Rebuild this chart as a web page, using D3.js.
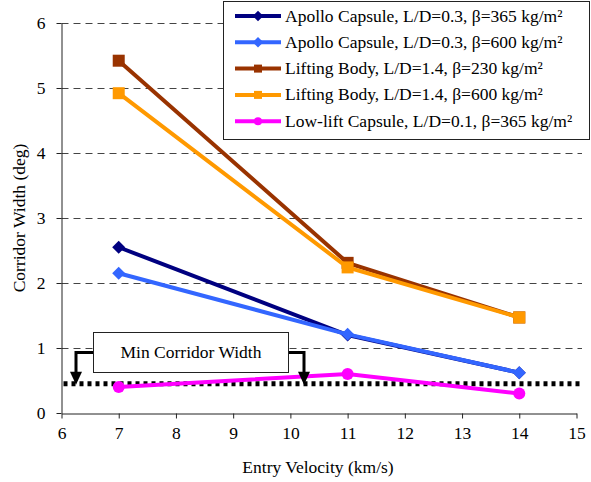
<!DOCTYPE html>
<html>
<head>
<meta charset="utf-8">
<script src="https://cdn.jsdelivr.net/npm/d3@7"></script>
</head>
<body style="margin:0">
<svg id="fig" width="591" height="482"></svg>
<script>
// DATA =======================================================================
var velocities = [7, 11, 14];
var seriesNames = [
    "Apollo Capsule, L/D=0.3, \u03b2=365 kg/m\u00b2",
    "Apollo Capsule, L/D=0.3, \u03b2=600 kg/m\u00b2",
    "Lifting Body, L/D=1.4, \u03b2=230 kg/m\u00b2",
    "Lifting Body, L/D=1.4, \u03b2=600 kg/m\u00b2",
    "Low-lift Capsule, L/D=0.1, \u03b2=365 kg/m\u00b2"
];
var apollo365 = [2.55, 1.2, 0.62];
var apollo600 = [2.15, 1.21, 0.62];
var lifting230 = [5.42, 2.31, 1.47];
var lifting600 = [4.92, 2.24, 1.47];
var lowLift = [0.4, 0.6, 0.3];
var minCorridor = 0.45;
var xTicks = [6, 7, 8, 9, 10, 11, 12, 13, 14, 15];
var yTicks = [0, 1, 2, 3, 4, 5, 6];

var colors = ["#000080", "#3366ff", "#993300", "#ff9900", "#ff00ff"];
var shapes = ["diamond", "diamond", "square", "square", "circle"];
var values = [apollo365, apollo600, lifting230, lifting600, lowLift];

var FONT = "'Liberation Serif', 'Tinos', 'Times New Roman', serif";

// SETUP ======================================================================
var svg = d3.select("#fig");
var x = d3.scaleLinear().domain([6, 15]).range([61.5, 576.5]),
    y = d3.scaleLinear().domain([0, 6]).range([413, 23]);

var series = seriesNames.map(function (name, i) {
    return {
        name: name, color: colors[i], shape: shapes[i],
        points: velocities.map(function (v, j) { return {x: v, y: values[i][j]}; })
    };
});

function serif(sel, size) {
    sel.attr("font-family", FONT).attr("font-size", size)
        .style("font-family", FONT, "important")
        .style("font-size", size + "px", "important");
    return sel;
}

// gridlines
svg.append("g").selectAll("line")
    .data(yTicks.slice(1))
    .enter().append("line")
    .attr("x1", x(6)).attr("x2", 582)
    .attr("y1", function (d) { return Math.round(y(d)) + 0.5; })
    .attr("y2", function (d) { return Math.round(y(d)) + 0.5; })
    .attr("stroke", "#444").attr("stroke-width", 1)
    .attr("stroke-dasharray", "7,5");

// axes
var xAxis = svg.append("g")
    .attr("transform", "translate(0,413.5)")
    .call(d3.axisBottom(x).tickValues(xTicks).tickFormat(d3.format("d"))
        .tickSize(5).tickSizeOuter(0).tickPadding(8));
var yAxis = svg.append("g")
    .attr("transform", "translate(61.5,0)")
    .call(d3.axisLeft(y).tickValues(yTicks).tickFormat(d3.format("d"))
        .tickSize(5).tickSizeOuter(0).tickPadding(11));
[xAxis, yAxis].forEach(function (a) {
    a.attr("font-family", FONT).attr("font-size", 17.5);
    a.select(".domain").attr("stroke", "#222");
    a.selectAll(".tick line").attr("stroke", "#222");
    serif(a.selectAll("text").attr("fill", "#000"), 17.5);
});

serif(svg.append("text"), 17.5)
    .attr("x", 318).attr("y", 473)
    .attr("text-anchor", "middle")
    .text("Entry Velocity (km/s)");
serif(svg.append("text"), 17.5)
    .attr("transform", "translate(25,218) rotate(-90)")
    .attr("text-anchor", "middle")
    .text("Corridor Width (deg)");

// minimum corridor line
svg.append("line")
    .attr("x1", x(6) + 2).attr("x2", 581)
    .attr("y1", y(minCorridor)).attr("y2", y(minCorridor))
    .attr("stroke", "#000").attr("stroke-width", 5)
    .attr("stroke-dasharray", "4,4");

// series
var line = d3.line()
    .x(function (d) { return x(d.x); })
    .y(function (d) { return y(d.y); });

function drawMarker(g, shape, color, size) {
    if (shape === "diamond") {
        g.append("path").attr("d", d3.symbol(d3.symbolDiamond2, size * 9)()).attr("fill", color);
    } else if (shape === "square") {
        g.append("rect").attr("x", -size / 2).attr("y", -size / 2)
            .attr("width", size).attr("height", size).attr("fill", color);
    } else {
        g.append("circle").attr("r", size / 2).attr("fill", color);
    }
}

series.forEach(function (s) {
    svg.append("path")
        .datum(s.points)
        .attr("fill", "none")
        .attr("stroke", s.color)
        .attr("stroke-width", 4)
        .attr("d", line);
    s.points.forEach(function (p) {
        var g = svg.append("g").attr("transform", "translate(" + x(p.x) + "," + y(p.y) + ")");
        drawMarker(g, s.shape, s.color, 12);
    });
});

// annotation
var ann = svg.append("g");
var yArrow = y(minCorridor) - 1;
ann.append("path")
    .attr("d", "M93,352.5 H76 V" + (yArrow - 9))
    .attr("fill", "none").attr("stroke", "#000").attr("stroke-width", 3);
ann.append("path")
    .attr("d", "M289,352.5 H304 V" + (yArrow - 9))
    .attr("fill", "none").attr("stroke", "#000").attr("stroke-width", 3);
[76, 304].forEach(function (ax) {
    ann.append("path")
        .attr("d", "M" + (ax - 6) + "," + (yArrow - 11) + " L" + (ax + 6) + "," + (yArrow - 11) + " L" + ax + "," + (yArrow + 2) + "Z")
        .attr("fill", "#000");
});
ann.append("rect")
    .attr("x", 93.5).attr("y", 332.5).attr("width", 195).attr("height", 40)
    .attr("fill", "#fff").attr("stroke", "#222").attr("stroke-width", 1);
serif(ann.append("text"), 17.5)
    .attr("x", 191).attr("y", 358)
    .attr("text-anchor", "middle")
    .text("Min Corridor Width");

// legend
var legend = svg.append("g");
legend.append("rect")
    .attr("x", 223.5).attr("y", 1.5).attr("width", 366).attr("height", 138)
    .attr("fill", "#fff").attr("stroke", "#222").attr("stroke-width", 1);
series.forEach(function (s, i) {
    var ly = 16 + i * 26.3;
    var g = legend.append("g");
    g.append("line")
        .attr("x1", 235).attr("x2", 281)
        .attr("y1", ly).attr("y2", ly)
        .attr("stroke", s.color).attr("stroke-width", 4);
    var m = g.append("g").attr("transform", "translate(258," + ly + ")");
    drawMarker(m, s.shape, s.color, 8);
    serif(g.append("text"), 17.5)
        .attr("x", 285).attr("y", ly + 5.5)
        .text(s.name);
});
</script>
</body>
</html>
